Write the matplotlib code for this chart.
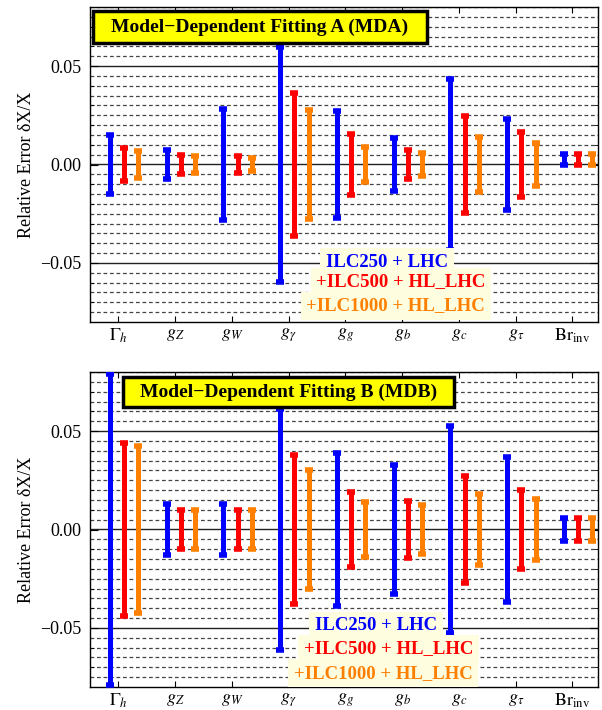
import numpy as np
import matplotlib
matplotlib.use("Agg")
from matplotlib import pyplot as plt
from matplotlib.patches import Rectangle

plt.rcParams['font.family'] = ['Liberation Serif', 'DejaVu Serif']
plt.rcParams['mathtext.fontset'] = 'stix'

labels = [r'$\Gamma_h$', r'$g_Z$', r'$g_W$', r'$g_\gamma$', r'$g_g$',
          r'$g_b$', r'$g_c$', r'$g_\tau$', r'$\mathrm{Br}_{\mathrm{inv}}$']
series = ['ILC250 + LHC', '+ILC500 + HL_LHC', '+ILC1000 + HL_LHC']
colors = ['#0000FF', '#FF0000', '#FF8000']

# MDA: upper / lower ends of the bars
mda_hi = [
    [0.0150, 0.0076, 0.0284, 0.0597, 0.0270, 0.0137, 0.0434, 0.0233, 0.0054],
    [0.0083, 0.0046, 0.0042, 0.0362, 0.0153, 0.0076, 0.0244, 0.0163, 0.0054],
    [0.0070, 0.0045, 0.0034, 0.0275, 0.0090, 0.0059, 0.0142, 0.0108, 0.0054],
]
mda_low = [
    [-0.0150, -0.0076, -0.0284, -0.0597, -0.0270, -0.0137, -0.0434, -0.0233, -0.0004],
    [-0.0083, -0.0046, -0.0042, -0.0362, -0.0153, -0.0076, -0.0244, -0.0163, -0.0004],
    [-0.0070, -0.0045, -0.0034, -0.0275, -0.0090, -0.0059, -0.0142, -0.0108, -0.0004],
]
# MDB: symmetric errors
mdb = [
    [0.0790, 0.0130, 0.0130, 0.0610, 0.0390, 0.0328, 0.0527, 0.0368, 0.0060],
    [0.0440, 0.0100, 0.0100, 0.0380, 0.0190, 0.0143, 0.0270, 0.0199, 0.0060],
    [0.0422, 0.0100, 0.0100, 0.0300, 0.0140, 0.0125, 0.0180, 0.0154, 0.0060],
]

offsets = [-0.15, 0.10, 0.35]
x = np.arange(1, len(labels) + 1)

fig = plt.figure(figsize=(6.02, 7.10), dpi=100, facecolor='w')
ax1 = fig.add_axes([90/602, 1-322/710, 508/602, 315/710])
ax2 = fig.add_axes([90/602, 1-687/710, 508/602, 315/710])


def setup(ax):
    ax.set_xlim(0.5, 9.45)
    ax.set_ylim(-0.08, 0.08)
    for yy in np.arange(-0.075, 0.0801, 0.005):
        if abs(round(yy / 0.05) * 0.05 - yy) < 1e-9:
            ax.axhline(yy, color='#222222', lw=1.0, zorder=1)
        else:
            ax.axhline(yy, color='#444444', lw=0.9, ls=(0, (3, 2.2)), zorder=1)
    ax.set_xticks(x)
    ax.set_xticklabels(labels, fontsize=13)
    ax.set_yticks([-0.05, 0, 0.05])
    ax.set_yticklabels(['\u22120.05', '0.00', '0.05'], fontsize=13)
    ax.set_yticks(np.arange(-0.07, 0.071, 0.01), minor=True)
    ax.tick_params(axis='both', which='both', direction='in', top=True, right=True)
    ax.tick_params(axis='x', length=4, pad=3)
    ax.tick_params(axis='y', which='major', length=6, pad=6)
    ax.tick_params(axis='y', which='minor', length=3)
    ax.set_ylabel('Relative Error \u03b4X/X', fontsize=13, labelpad=4)
    for s in ax.spines.values():
        s.set_linewidth(1.0)


def title_box(ax, x0, x1, y0, y1, txt):
    ax.add_patch(Rectangle((x0, y0), x1 - x0, y1 - y0, transform=ax.transAxes,
                           facecolor='#FFFF00', edgecolor='black', lw=2.5, zorder=6))
    ax.text((x0 + x1) / 2, (y0 + y1) / 2, txt, transform=ax.transAxes,
            ha='center', va='center', fontsize=14, fontweight='bold', zorder=7)


def legend_texts(ax, pos):
    for (px, py), t, c in zip(pos, series, colors):
        ax.text(px, py, t, transform=ax.transAxes, ha='center', va='center',
                color=c, fontsize=13.5, fontweight='bold', zorder=6,
                bbox=dict(boxstyle='square,pad=0.3', facecolor='#FFFDE0', edgecolor='none'))


for ax in (ax1, ax2):
    setup(ax)

for i in range(3):
    hi = np.array(mda_hi[i])
    lo = np.array(mda_low[i])
    ax1.errorbar(x + offsets[i], (hi + lo) / 2, yerr=(hi - lo) / 2,
                 fmt='none', ecolor=colors[i], elinewidth=3.6, capsize=2.8, capthick=4, zorder=3)
    ax2.errorbar(x + offsets[i], np.zeros(len(x)), yerr=np.array(mdb[i]),
                 fmt='none', ecolor=colors[i], elinewidth=3.6, capsize=2.8, capthick=4, zorder=3)

title_box(ax1, 0.006, 0.663, 0.886, 0.987, 'Model\u2212Dependent Fitting A (MDA)')
title_box(ax2, 0.065, 0.717, 0.889, 0.984, 'Model\u2212Dependent Fitting B (MDB)')

legend_texts(ax1, [(0.585, 0.190), (0.612, 0.127), (0.602, 0.051)])
legend_texts(ax2, [(0.563, 0.194), (0.587, 0.121), (0.577, 0.044)])

plt.savefig('out.png', dpi=100)
plt.close(fig)
